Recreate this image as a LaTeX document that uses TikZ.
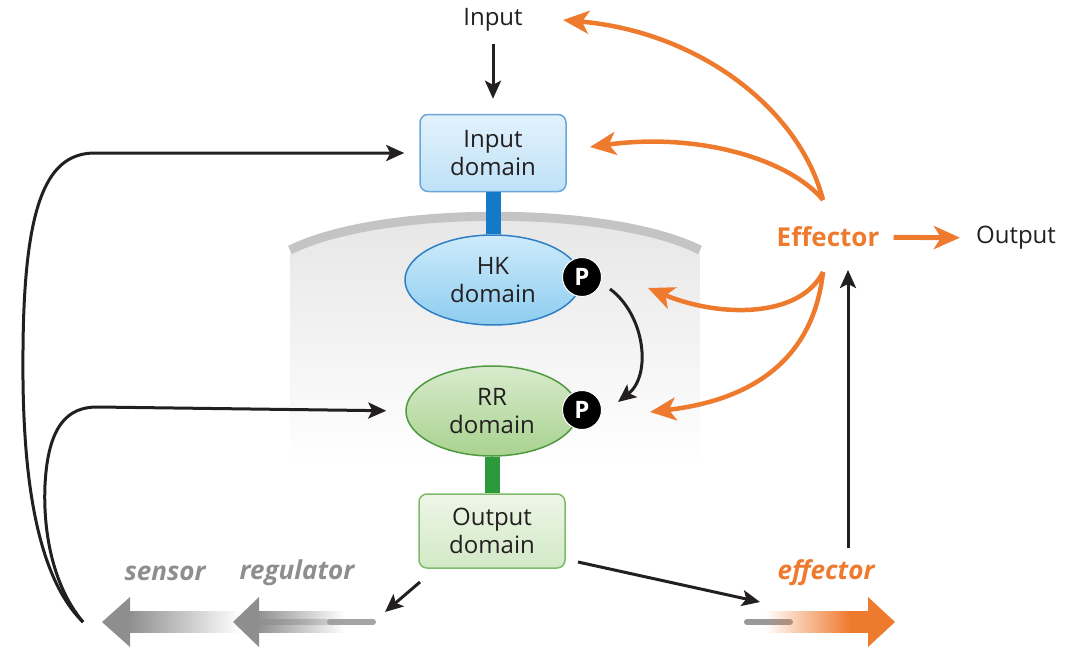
\documentclass[tikz,border=0pt]{standalone}
\usepackage{fontspec}
\setmainfont{Open Sans}
\usetikzlibrary{arrows.meta,shapes.geometric,fadings}
\definecolor{orng}{HTML}{EE7A2E}
\definecolor{ink}{HTML}{231F20}
\definecolor{grayarr}{HTML}{8E8E8E}
\definecolor{memb}{HTML}{C4C4C4}
\definecolor{bluest}{HTML}{1479C6}
\definecolor{greenst}{HTML}{2A9A3A}
\definecolor{boxbl}{HTML}{6AA6D8}
\definecolor{hkedge}{HTML}{2F7FC4}
\definecolor{rredge}{HTML}{4F9A3F}
\definecolor{outedge}{HTML}{7DBB6A}
\definecolor{intop}{HTML}{E2F2FC}
\definecolor{inbot}{HTML}{BFE1F7}
\definecolor{hktop}{HTML}{CDEBFB}
\definecolor{hkbot}{HTML}{8ECDF0}
\definecolor{rrtop}{HTML}{D8EBCD}
\definecolor{rrbot}{HTML}{A9D28F}
\definecolor{outtop}{HTML}{EDF6E7}
\definecolor{outbot}{HTML}{D2E9C6}
\tikzfading[name=fadein, left color=transparent!100, right color=transparent!0]
\tikzfading[name=fadeout, left color=transparent!0, right color=transparent!100]
\begin{document}
\begin{tikzpicture}[x=1pt,y=-1pt,
  txt/.style={font=\fontsize{24}{28}\selectfont, text=ink, align=center, inner sep=0pt},
  lbl/.style={font=\fontsize{26}{28}\selectfont\bfseries\itshape, inner sep=0pt},
  inbox/.style={txt, draw=boxbl, line width=1.5pt, rounded corners=8pt, top color=intop, bottom color=inbot, minimum width=146pt, minimum height=77pt},
  outbox/.style={txt, draw=outedge, line width=1.5pt, rounded corners=8pt, top color=outtop, bottom color=outbot, minimum width=146pt, minimum height=74pt},
  hkell/.style={txt, ellipse, draw=hkedge, line width=1.5pt, top color=hktop, bottom color=hkbot, minimum width=176pt, minimum height=90pt},
  rrell/.style={txt, ellipse, draw=rredge, line width=1.5pt, top color=rrtop, bottom color=rrbot, minimum width=172pt, minimum height=90pt},
  pcirc/.style={circle, fill=black, draw=white, line width=1pt, text=white, minimum size=39pt, inner sep=0pt, font=\fontsize{24}{24}\selectfont\bfseries},
  blk/.style={draw=ink, line width=3pt, -{Stealth[length=18pt,width=16pt,inset=4pt]}},
  oarr/.style={draw=orng, line width=4.5pt, -{Stealth[length=26pt,width=23pt,inset=7pt]}},
  stem/.style={line width=15pt}
]
\useasboundingbox (0,0) rectangle (1084,648);

% cell background and membrane
\shade[top color=black!10, bottom color=white]
  (290,252) .. controls (380,207) and (610,207) .. (700,252) -- (700,465) -- (290,465) -- cycle;
\draw[line width=9pt, memb] (290,250) .. controls (380,205) and (610,205) .. (700,250);

% domains
\node[inbox] (ind) at (493,153) {Input\\domain};
\node[hkell] (hk) at (493,280) {HK\\domain};
\node[rrell] (rr) at (492,411) {RR\\domain};
\node[outbox] (outd) at (492,531) {Output\\domain};
\node[pcirc] (p1) at (582,277) {P};
\node[pcirc] (p2) at (582,410) {P};
\draw[stem, bluest] (ind.south) -- (hk.north);
\draw[stem, greenst] (rr.south) -- (outd.north);

% texts
\node[txt] (input) at (493,20) {Input};
\node[font=\fontsize{26}{28}\selectfont\bfseries, text=orng, inner sep=0pt] (eff) at (828,237) {Effector};
\node[txt] (output) at (1016,238) {Output};
\node[lbl, text=grayarr] (sens) at (165,573) {sensor};
\node[lbl, text=grayarr] (reg) at (297,573) {regulator};
\node[lbl, text=orng] (effg) at (826,573) {effector};

% gene arrows
\fill[grayarr, path fading=fadeout] (128,611) rectangle (240,633);
\fill[grayarr] (102,622) -- (130,597) -- (130,647) -- cycle;
\draw[grayarr!80, line width=6pt, line cap=round, path fading=fadeout] (257,622) -- (373,622);
\draw[grayarr!80, line width=6pt, line cap=round] (330,622) -- (373,622);
\fill[grayarr, path fading=fadeout] (256,611) rectangle (345,633);
\fill[grayarr] (233,622) -- (259,597) -- (259,647) -- cycle;
\draw[grayarr!90, line width=6pt, line cap=round] (747,622) -- (790,622);
\fill[orng, path fading=fadein] (765,611) rectangle (850,633);
\fill[orng] (849,611) rectangle (869,633);
\fill[orng] (895,622) -- (868,597) -- (868,647) -- cycle;
\coordinate (geff) at (760,602);

% black arrows
\draw[blk, shorten <=12pt, shorten >=15pt] (input) -- (ind);
\coordinate (loopst) at (83,622);
\draw[blk, shorten >=15pt] (loopst) .. controls (30,570) and (22,450) .. (23,350)
  .. controls (24,200) and (48,153) .. (95,153) -- (ind.west);
\draw[blk, shorten >=19pt] (loopst) .. controls (52,585) and (43,530) .. (45,485)
  .. controls (48,425) and (68,407) .. (97,407) -- (rr.west);
\coordinate (hkp) at (610,289);
\coordinate (rrp) at (618,402);
\draw[blk] (hkp) .. controls (645,315) and (652,375) .. (rrp);
\coordinate (od1) at (420,582);
\coordinate (od1e) at (385,612);
\draw[blk] (od1) -- (od1e);
\coordinate (od2) at (578,562);
\draw[blk] (od2) -- (geff);
\coordinate (effup) at (848,548);
\coordinate (effdn) at (848,270);
\draw[blk] (effup) -- (effdn);

% orange arrows
\coordinate (et) at (823,200);
\coordinate (eb) at (823,272);
\coordinate (a1) at (563,20);
\coordinate (a2) at (590,147);
\coordinate (a3) at (648,288);
\coordinate (a4) at (650,412);
\draw[oarr] (et) .. controls (800,110) and (700,32) .. (a1);
\draw[oarr] (et) .. controls (790,160) and (700,132) .. (a2);
\draw[oarr] (eb) .. controls (800,318) and (720,318) .. (a3);
\draw[oarr] (eb) .. controls (812,372) and (735,402) .. (a4);
\draw[oarr, line width=5pt, shorten <=14pt, shorten >=16pt] (eff) -- (output);
\end{tikzpicture}
\end{document}
